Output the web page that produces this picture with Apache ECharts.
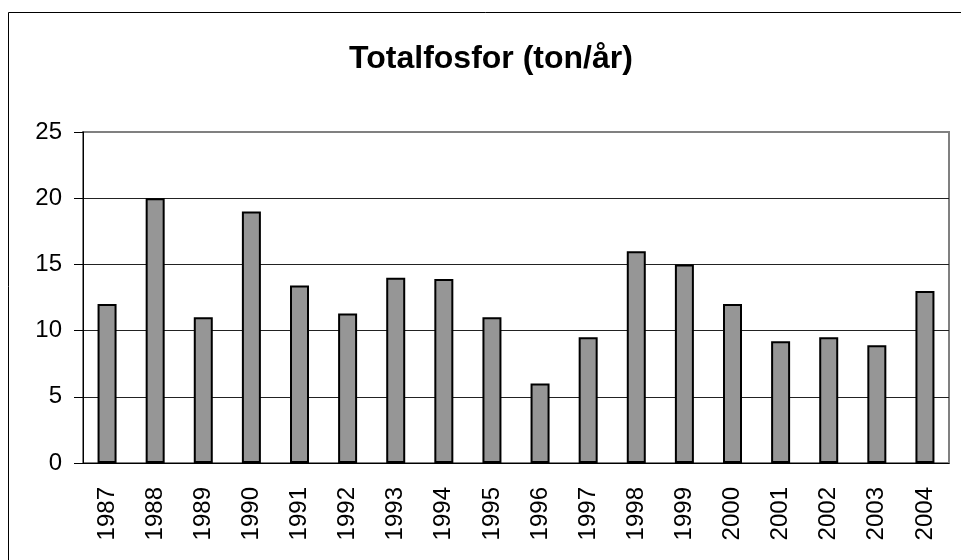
<!DOCTYPE html>
<html lang="sv">
<head>
<meta charset="UTF-8">
<title>Totalfosfor</title>
<script src="https://cdn.jsdelivr.net/npm/echarts@6/dist/echarts.min.js"></script>
</head>
<body style="margin:0;background:#fff">
<div id="container" style="width:961px;height:560px"></div>
<script type="text/javascript">
    var years = ['1987', '1988', '1989', '1990', '1991', '1992', '1993', '1994', '1995',
        '1996', '1997', '1998', '1999', '2000', '2001', '2002', '2003', '2004'];
    // totalfosfor, ton per år
    var fosfor = [12, 20, 11, 19, 13.4, 11.3, 14, 13.9, 11, 6, 9.5, 16, 15, 12, 9.2, 9.5, 8.9, 13];

    var myChart = echarts.init(document.getElementById('container'));
    var font = '"Liberation Sans", Arial, sans-serif';

    var option = {
        backgroundColor: '#fff',
        animation: false,
        title: {
            text: 'Totalfosfor (ton/år)',
            left: 486,
            textAlign: 'center',
            top: 38,
            textStyle: {fontFamily: font, fontSize: 32, fontWeight: 'bold', color: '#000'}
        },
        // ramen runt diagrammet
        graphic: [{
            type: 'rect',
            shape: {x: 8.5, y: 12.5, width: 1000, height: 600},
            style: {fill: 'none', stroke: '#000', lineWidth: 1},
            silent: true
        }],
        grid: {
            left: 83, right: 12, top: 132, bottom: 97,
            show: true,
            borderColor: '#808080',
            borderWidth: 2
        },
        xAxis: {
            type: 'category',
            data: years,
            axisLine: {lineStyle: {color: '#000', width: 1}},
            axisTick: {length: 8, lineStyle: {color: '#000'}},
            axisLabel: {
                rotate: 90, margin: 24, color: '#000',
                fontFamily: font, fontSize: 24
            }
        },
        yAxis: {
            type: 'value',
            min: 0, max: 25, interval: 5,
            axisLine: {show: true, lineStyle: {color: '#000', width: 1}},
            axisTick: {show: true, length: 9, lineStyle: {color: '#000'}},
            axisLabel: {margin: 21, color: '#000', fontFamily: font, fontSize: 24},
            splitLine: {lineStyle: {color: ['#222', '#222', '#222', '#222', '#222', '#808080'], width: 1}}
        },
        series: [{
            type: 'bar',
            data: fosfor,
            barWidth: 19,
            itemStyle: {color: '#969696', borderColor: '#000', borderWidth: 2}
        }]
    };
    myChart.setOption(option);
</script>
</body>
</html>
